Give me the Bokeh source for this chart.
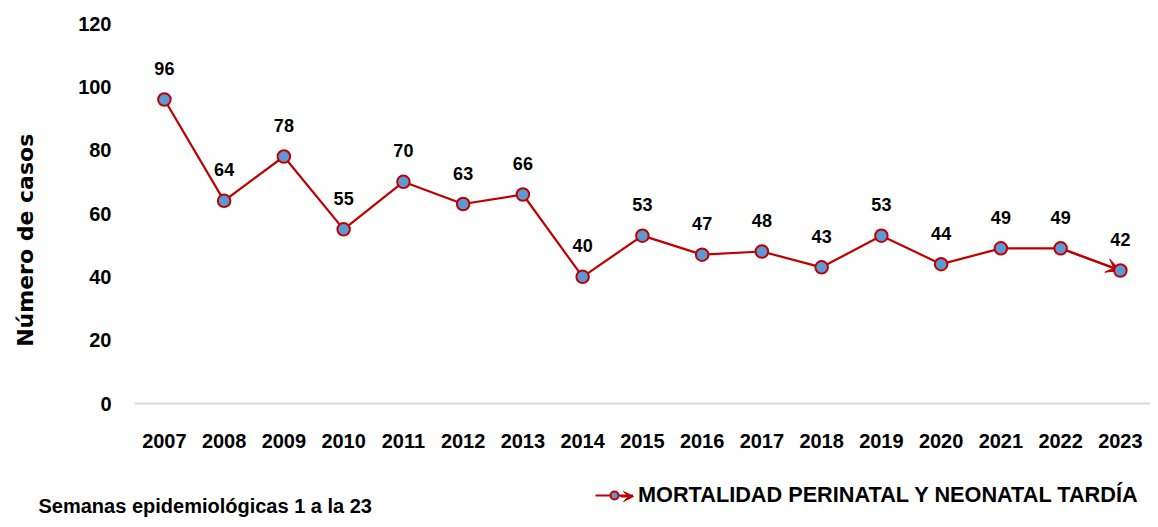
from bokeh.plotting import figure
from bokeh.models import (Range1d, FixedTicker, Arrow, VeeHead, Legend, LegendItem,
                          ColumnDataSource, Label)
from bokeh.core.properties import value
from bokeh.embed import file_html
from bokeh.resources import INLINE

years = [2007, 2008, 2009, 2010, 2011, 2012, 2013, 2014, 2015, 2016, 2017, 2018, 2019, 2020, 2021, 2022, 2023]
casos = [96, 64, 78, 55, 70, 63, 66, 40, 53, 47, 48, 43, 53, 44, 49, 49, 42]
y_ticks = [0, 20, 40, 60, 80, 100, 120]
serie = "MORTALIDAD PERINATAL Y NEONATAL TARDÍA"
nota = "Semanas epidemiológicas 1 a la 23"
y_title = "Número de casos"

FONT = "Liberation Sans"
RED = "#C00000"
BLUE = "#5B9BD5"

# layout geometry (pixels)
W, H, TOP = 1150, 519, 23
PLOT_LEFT = 134          # where the plotting area starts
X_STEP = 59.75           # px per year
Y_PX = 380 / 120         # px per case

x0 = years[0] - 0.5 - PLOT_LEFT / X_STEP
x1 = x0 + W / X_STEP
y1 = y_ticks[-1] + TOP / Y_PX
y0 = y1 - H / Y_PX

src = ColumnDataSource(dict(x=years, y=casos, lbl=[str(v) for v in casos]))

p = figure(width=W, height=H, output_backend="svg", toolbar_location=None,
           x_range=Range1d(x0, x1), y_range=Range1d(y0, y1),
           min_border_left=0, min_border_right=0, min_border_top=0, min_border_bottom=0)
p.outline_line_color = None
p.xgrid.grid_line_color = None
p.ygrid.grid_line_color = None

# x axis drawn at y = 0
p.xaxis.fixed_location = 0
p.xaxis.bounds = (years[0] - 0.5, years[-1] + 0.5)
p.xaxis.ticker = FixedTicker(ticks=years)
p.xaxis.major_label_overrides = {y: str(y) for y in years}
p.xaxis.axis_line_color = "#D9D9D9"
p.xaxis.axis_line_width = 2
p.xaxis.major_tick_line_color = None
p.xaxis.minor_tick_line_color = None
p.xaxis.major_label_text_font = FONT
p.xaxis.major_label_text_font_style = "bold"
p.xaxis.major_label_text_font_size = "20px"
p.xaxis.major_label_text_color = "black"
p.xaxis.major_label_standoff = 24

# y axis drawn at the left edge of the plotting area
p.yaxis.fixed_location = years[0] - 0.5
p.yaxis.bounds = (y_ticks[0], y_ticks[-1])
p.yaxis.ticker = FixedTicker(ticks=y_ticks)
p.yaxis.axis_line_color = None
p.yaxis.major_tick_line_color = None
p.yaxis.minor_tick_line_color = None
p.yaxis.major_label_text_font = FONT
p.yaxis.major_label_text_font_style = "bold"
p.yaxis.major_label_text_font_size = "20px"
p.yaxis.major_label_text_color = "black"
p.yaxis.major_label_standoff = 17
p.yaxis.axis_label = y_title + "\u00a0" * 7
p.yaxis.axis_label_text_font = "DejaVu Sans"
p.yaxis.axis_label_text_font_style = "bold"
p.yaxis.axis_label_text_font_size = "22px"
p.yaxis.axis_label_text_color = "black"
p.yaxis.axis_label_standoff = 37

# series
line = p.line("x", "y", source=src, line_color=RED, line_width=2.2)
p.add_layout(Arrow(end=VeeHead(size=14, fill_color=RED, line_color=RED, line_width=1),
                   x_start=years[-2], y_start=casos[-2], x_end=years[-1], y_end=casos[-1],
                   line_color=RED, line_width=2.2, level="underlay"))
pts = p.scatter("x", "y", source=src, size=12.5, fill_color=BLUE, line_color=RED, line_width=2)

p.text("x", "y", text="lbl", source=src, y_offset=-31, text_align="center",
       text_baseline="middle", text_font=value(FONT), text_font_style="bold",
       text_font_size="18px", text_color="black")

# legend and note under the axis
legend = Legend(items=[LegendItem(label=serie, renderers=[line, pts])],
                location=(595, 11), orientation="horizontal",
                glyph_width=38, glyph_height=20, label_standoff=5,
                padding=0, margin=0, border_line_color=None, background_fill_alpha=0,
                label_text_font=FONT, label_text_font_style="bold",
                label_text_font_size="21.7px", label_text_color="black")
p.add_layout(legend, "center")
p.add_layout(Arrow(end=VeeHead(size=10, fill_color=RED, line_color=RED),
                   x_start=620, y_start=23, x_end=633, y_end=23,
                   start_units="screen", end_units="screen",
                   line_color=RED, line_width=2.2))
p.add_layout(Label(x=38, y=14, x_units="screen", y_units="screen", text=nota,
                   text_font=FONT, text_font_style="bold", text_font_size="20px",
                   text_baseline="middle", text_color="black"))

open("out.html", "w").write(file_html(p, INLINE))
